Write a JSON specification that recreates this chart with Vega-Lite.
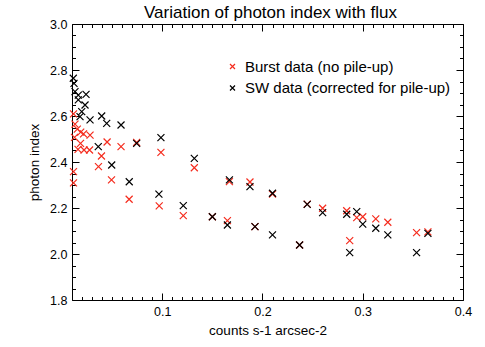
{
  "$schema": "https://vega.github.io/schema/vega-lite/v6.json",
  "width": 391,
  "height": 276,
  "autosize": "none",
  "padding": {"left": 72, "top": 24, "right": 22, "bottom": 47},
  "background": "white",
  "config": {
    "font": "Liberation Sans",
    "view": {"stroke": null},
    "axis": {"labelFont": "Liberation Sans", "titleFont": "Liberation Sans", "labelColor": "#000", "titleColor": "#000", "titleFontWeight": "normal", "grid": false, "domainColor": "#000", "tickColor": "#000"}
  },
  "title": {"text": "Variation of photon index with flux", "fontSize": 17, "fontWeight": "normal", "font": "Liberation Sans", "color": "#000", "baseline": "alphabetic", "offset": 8, "dy": 25, "dx": 3, "anchor": "middle"},
  "data": {"values": [
    {"series": "Burst data (no pile-up)", "flux": 0.0115, "index": 2.609},
    {"series": "Burst data (no pile-up)", "flux": 0.013, "index": 2.565},
    {"series": "Burst data (no pile-up)", "flux": 0.0153, "index": 2.543},
    {"series": "Burst data (no pile-up)", "flux": 0.0187, "index": 2.53},
    {"series": "Burst data (no pile-up)", "flux": 0.0215, "index": 2.522},
    {"series": "Burst data (no pile-up)", "flux": 0.028, "index": 2.517},
    {"series": "Burst data (no pile-up)", "flux": 0.0125, "index": 2.507},
    {"series": "Burst data (no pile-up)", "flux": 0.0185, "index": 2.481},
    {"series": "Burst data (no pile-up)", "flux": 0.016, "index": 2.455},
    {"series": "Burst data (no pile-up)", "flux": 0.022, "index": 2.452},
    {"series": "Burst data (no pile-up)", "flux": 0.0275, "index": 2.452},
    {"series": "Burst data (no pile-up)", "flux": 0.045, "index": 2.487},
    {"series": "Burst data (no pile-up)", "flux": 0.0589, "index": 2.467},
    {"series": "Burst data (no pile-up)", "flux": 0.0394, "index": 2.426},
    {"series": "Burst data (no pile-up)", "flux": 0.0364, "index": 2.38},
    {"series": "Burst data (no pile-up)", "flux": 0.0494, "index": 2.322},
    {"series": "Burst data (no pile-up)", "flux": 0.0115, "index": 2.358},
    {"series": "Burst data (no pile-up)", "flux": 0.0115, "index": 2.309},
    {"series": "Burst data (no pile-up)", "flux": 0.0745, "index": 2.485},
    {"series": "Burst data (no pile-up)", "flux": 0.0987, "index": 2.442},
    {"series": "Burst data (no pile-up)", "flux": 0.067, "index": 2.238},
    {"series": "Burst data (no pile-up)", "flux": 0.097, "index": 2.209},
    {"series": "Burst data (no pile-up)", "flux": 0.121, "index": 2.167},
    {"series": "Burst data (no pile-up)", "flux": 0.132, "index": 2.375},
    {"series": "Burst data (no pile-up)", "flux": 0.15, "index": 2.162},
    {"series": "Burst data (no pile-up)", "flux": 0.165, "index": 2.145},
    {"series": "Burst data (no pile-up)", "flux": 0.167, "index": 2.315},
    {"series": "Burst data (no pile-up)", "flux": 0.1875, "index": 2.313},
    {"series": "Burst data (no pile-up)", "flux": 0.1925, "index": 2.119},
    {"series": "Burst data (no pile-up)", "flux": 0.21, "index": 2.261},
    {"series": "Burst data (no pile-up)", "flux": 0.237, "index": 2.039},
    {"series": "Burst data (no pile-up)", "flux": 0.2446, "index": 2.217},
    {"series": "Burst data (no pile-up)", "flux": 0.26, "index": 2.199},
    {"series": "Burst data (no pile-up)", "flux": 0.284, "index": 2.188},
    {"series": "Burst data (no pile-up)", "flux": 0.287, "index": 2.058},
    {"series": "Burst data (no pile-up)", "flux": 0.294, "index": 2.158},
    {"series": "Burst data (no pile-up)", "flux": 0.3, "index": 2.162},
    {"series": "Burst data (no pile-up)", "flux": 0.313, "index": 2.153},
    {"series": "Burst data (no pile-up)", "flux": 0.325, "index": 2.138},
    {"series": "Burst data (no pile-up)", "flux": 0.3537, "index": 2.093},
    {"series": "Burst data (no pile-up)", "flux": 0.365, "index": 2.096},
    {"series": "SW data (corrected for pile-up)", "flux": 0.0113, "index": 2.764},
    {"series": "SW data (corrected for pile-up)", "flux": 0.012, "index": 2.742},
    {"series": "SW data (corrected for pile-up)", "flux": 0.013, "index": 2.706},
    {"series": "SW data (corrected for pile-up)", "flux": 0.0163, "index": 2.691},
    {"series": "SW data (corrected for pile-up)", "flux": 0.024, "index": 2.694},
    {"series": "SW data (corrected for pile-up)", "flux": 0.0163, "index": 2.67},
    {"series": "SW data (corrected for pile-up)", "flux": 0.023, "index": 2.648},
    {"series": "SW data (corrected for pile-up)", "flux": 0.0197, "index": 2.619},
    {"series": "SW data (corrected for pile-up)", "flux": 0.018, "index": 2.597},
    {"series": "SW data (corrected for pile-up)", "flux": 0.028, "index": 2.583},
    {"series": "SW data (corrected for pile-up)", "flux": 0.0396, "index": 2.6},
    {"series": "SW data (corrected for pile-up)", "flux": 0.0446, "index": 2.568},
    {"series": "SW data (corrected for pile-up)", "flux": 0.0589, "index": 2.561},
    {"series": "SW data (corrected for pile-up)", "flux": 0.0362, "index": 2.467},
    {"series": "SW data (corrected for pile-up)", "flux": 0.0496, "index": 2.387},
    {"series": "SW data (corrected for pile-up)", "flux": 0.0671, "index": 2.314},
    {"series": "SW data (corrected for pile-up)", "flux": 0.0967, "index": 2.26},
    {"series": "SW data (corrected for pile-up)", "flux": 0.0745, "index": 2.481},
    {"series": "SW data (corrected for pile-up)", "flux": 0.0987, "index": 2.506},
    {"series": "SW data (corrected for pile-up)", "flux": 0.121, "index": 2.21},
    {"series": "SW data (corrected for pile-up)", "flux": 0.132, "index": 2.416},
    {"series": "SW data (corrected for pile-up)", "flux": 0.15, "index": 2.162},
    {"series": "SW data (corrected for pile-up)", "flux": 0.165, "index": 2.126},
    {"series": "SW data (corrected for pile-up)", "flux": 0.167, "index": 2.322},
    {"series": "SW data (corrected for pile-up)", "flux": 0.1875, "index": 2.293},
    {"series": "SW data (corrected for pile-up)", "flux": 0.1925, "index": 2.119},
    {"series": "SW data (corrected for pile-up)", "flux": 0.21, "index": 2.264},
    {"series": "SW data (corrected for pile-up)", "flux": 0.21, "index": 2.083},
    {"series": "SW data (corrected for pile-up)", "flux": 0.237, "index": 2.039},
    {"series": "SW data (corrected for pile-up)", "flux": 0.2446, "index": 2.216},
    {"series": "SW data (corrected for pile-up)", "flux": 0.26, "index": 2.18},
    {"series": "SW data (corrected for pile-up)", "flux": 0.284, "index": 2.173},
    {"series": "SW data (corrected for pile-up)", "flux": 0.294, "index": 2.184},
    {"series": "SW data (corrected for pile-up)", "flux": 0.3, "index": 2.13},
    {"series": "SW data (corrected for pile-up)", "flux": 0.313, "index": 2.112},
    {"series": "SW data (corrected for pile-up)", "flux": 0.325, "index": 2.083},
    {"series": "SW data (corrected for pile-up)", "flux": 0.287, "index": 2.006},
    {"series": "SW data (corrected for pile-up)", "flux": 0.3537, "index": 2.006},
    {"series": "SW data (corrected for pile-up)", "flux": 0.365, "index": 2.09}
  ]},
  "layer": [
    {
      "transform": [{"filter": "datum.series === 'Burst data (no pile-up)'"}],
      "mark": {"type": "point", "shape": "M-1,-1L1,1M-1,1L1,-1", "filled": false, "strokeWidth": 1.2, "size": 49, "opacity": 1},
      "encoding": {
        "x": {"field": "flux", "type": "quantitative", "scale": {"domain": [0.01, 0.4], "nice": false, "zero": false},
          "axis": {"orient": "bottom", "title": "counts s-1 arcsec-2", "titleFontSize": 13.5, "titlePadding": 2, "labelFontSize": 12.5, "labelPadding": 12,
            "values": [0.01,0.02,0.03,0.04,0.05,0.06,0.07,0.08,0.09,0.1,0.11,0.12,0.13,0.14,0.15,0.16,0.17,0.18,0.19,0.2,0.21,0.22,0.23,0.24,0.25,0.26,0.27,0.28,0.29,0.3,0.31,0.32,0.33,0.34,0.35,0.36,0.37,0.38,0.39,0.4],
            "labelExpr": "abs(datum.value*10 - round(datum.value*10)) < 0.001 ? format(datum.value, '.1f') : ''",
            "tickSize": {"condition": {"test": "abs(datum.value*10 - round(datum.value*10)) < 0.001", "value": -7}, "value": -3.5},
            "labelFlush": false, "labelOverlap": false}},
        "y": {"field": "index", "type": "quantitative", "scale": {"domain": [1.8, 3.0], "nice": false, "zero": false},
          "axis": {"orient": "left", "title": "photon index", "titleFontSize": 13.5, "titlePadding": 8, "labelFontSize": 12.5, "labelPadding": 12,
            "values": [1.8,1.85,1.9,1.95,2.0,2.05,2.1,2.15,2.2,2.25,2.3,2.35,2.4,2.45,2.5,2.55,2.6,2.65,2.7,2.75,2.8,2.85,2.9,2.95,3.0],
            "labelExpr": "abs(datum.value*5 - round(datum.value*5)) < 0.001 ? format(datum.value, '.1f') : ''",
            "tickSize": {"condition": {"test": "abs(datum.value*5 - round(datum.value*5)) < 0.001", "value": -7}, "value": -3.5},
            "labelFlush": false, "labelOverlap": false}},
        "color": {"field": "series", "type": "nominal",
          "scale": {"domain": ["Burst data (no pile-up)", "SW data (corrected for pile-up)"], "range": ["#f52c1e", "#000000"]},
          "legend": {"orient": "none", "legendX": 153, "legendY": 35, "title": null, "labelFont": "Liberation Sans", "labelFontSize": 15, "labelLimit": 0,
            "symbolType": "M-1,-1L1,1M-1,1L1,-1", "symbolSize": 25, "symbolStrokeWidth": 1.2, "rowPadding": 5.5, "labelOffset": 5, "padding": 0,
            "encode": {"labels": {"update": {"fill": {"signal": "datum.value === 'Burst data (no pile-up)' ? '#f52c1e' : '#000000'"}}}}}}
      }
    },
    {
      "transform": [{"filter": "datum.series === 'SW data (corrected for pile-up)'"}],
      "mark": {"type": "point", "shape": "M-1,-1L1,1M-1,1L1,-1", "filled": false, "strokeWidth": 1.2, "size": 49, "opacity": 1},
      "encoding": {
        "x": {"field": "flux", "type": "quantitative",
          "axis": {"orient": "top", "title": null, "labels": false, "minExtent": 0, "maxExtent": 0,
            "values": [0.01,0.02,0.03,0.04,0.05,0.06,0.07,0.08,0.09,0.1,0.11,0.12,0.13,0.14,0.15,0.16,0.17,0.18,0.19,0.2,0.21,0.22,0.23,0.24,0.25,0.26,0.27,0.28,0.29,0.3,0.31,0.32,0.33,0.34,0.35,0.36,0.37,0.38,0.39,0.4],
            "tickSize": {"condition": {"test": "abs(datum.value*10 - round(datum.value*10)) < 0.001", "value": -7}, "value": -3.5}}},
        "y": {"field": "index", "type": "quantitative",
          "axis": {"orient": "right", "title": null, "labels": false, "minExtent": 0, "maxExtent": 0,
            "values": [1.8,1.85,1.9,1.95,2.0,2.05,2.1,2.15,2.2,2.25,2.3,2.35,2.4,2.45,2.5,2.55,2.6,2.65,2.7,2.75,2.8,2.85,2.9,2.95,3.0],
            "tickSize": {"condition": {"test": "abs(datum.value*5 - round(datum.value*5)) < 0.001", "value": -7}, "value": -3.5}}},
        "color": {"field": "series", "type": "nominal"}
      }
    }
  ],
  "resolve": {"axis": {"x": "independent", "y": "independent"}}
}
